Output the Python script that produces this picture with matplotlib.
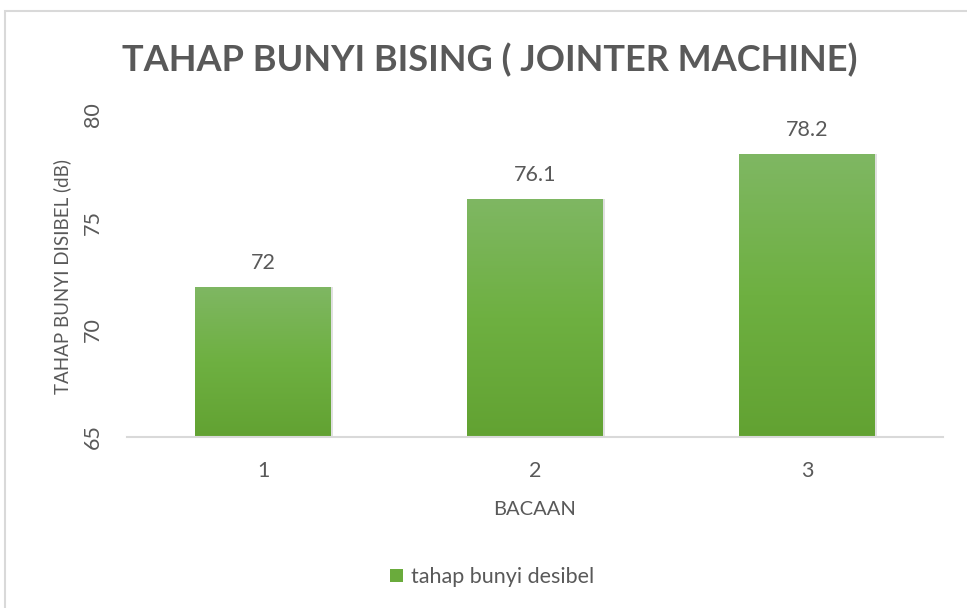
import matplotlib
matplotlib.use("Agg")
import matplotlib.pyplot as plt
import numpy as np
from matplotlib.colors import LinearSegmentedColormap
from matplotlib.patches import Rectangle

categories = ["1", "2", "3"]
values = [72, 76.1, 78.2]
value_labels = ["72", "76.1", "78.2"]
y_ticks = [65, 70, 75, 80]
title = "TAHAP BUNYI BISING ( JOINTER MACHINE)"
x_label = "BACAAN"
y_label = "TAHAP BUNYI DISIBEL (dB)"
legend_label = "tahap bunyi desibel"

plt.rcParams['font.family'] = ['Lato', 'DejaVu Sans']
txt = '#595959'
fs = 15.5

fig = plt.figure(figsize=(9.67, 6.08), dpi=100)
fig.patches.append(Rectangle((5/967, -0.05), 1.2, 1 - 11/608 + 0.05, transform=fig.transFigure,
                             fill=False, edgecolor='#d9d9d9', linewidth=1.5))
ax = fig.add_axes([127/967, 1 - 437/608, (943-127)/967, (437-115)/608])

x = np.arange(len(categories))
bars = ax.bar(x, values, width=0.5, color='#6aab3c', zorder=2, bottom=0)
ax.set_ylim(65, 80)
ax.set_xlim(-0.5, 2.5)

cmap = LinearSegmentedColormap.from_list('g', ['#62a232', '#6eb041', '#7fb763'])
grad = np.linspace(0, 1, 256).reshape(-1, 1)
for b in bars:
    x0, w, h = b.get_x(), b.get_width(), b.get_height()
    ax.add_patch(Rectangle((x0 + 0.008, 65), w, h - 65, facecolor='#000000', alpha=0.12,
                           zorder=1.5, linewidth=0))
    b.set_facecolor('none')
    b.set_edgecolor('none')
    im = ax.imshow(grad, cmap=cmap, aspect='auto', origin='lower',
                   extent=(x0, x0 + w, 65, h), zorder=2)
    im.set_clip_path(b)

for xi, v, lab in zip(x, values, value_labels):
    ax.annotate(lab, (xi, v), xytext=(0, 14), textcoords='offset pixels',
                ha='center', va='bottom', fontsize=fs, color=txt)

ax.set_xticks(x)
ax.set_xticklabels(categories, fontsize=fs, color=txt)
ax.set_yticks(y_ticks)
ax.set_yticklabels([str(t) for t in y_ticks], fontsize=fs, color=txt, rotation=90, va='center')
ax.tick_params(axis='both', length=0)
ax.tick_params(axis='y', pad=17.5)
ax.tick_params(axis='x', pad=17.5)
for s in ['top', 'right', 'left']:
    ax.spines[s].set_visible(False)
ax.spines['bottom'].set_color('#d9d9d9')
ax.spines['bottom'].set_linewidth(1.5)
ax.set_facecolor('none')

ax.set_xlabel(x_label, fontsize=fs - 1, color=txt, labelpad=14)
ax.set_ylabel(y_label, fontsize=13.5, color=txt, labelpad=8)

fig.text(490/967, 1 - 60/608, title, ha='center', va='center', fontsize=26,
         fontweight='bold', color=txt, family=['Liberation Sans Narrow', 'Lato', 'DejaVu Sans'])

fig.legend(handles=[Rectangle((0, 0), 1, 1, facecolor='#6aab3c', edgecolor='none')],
           labels=[legend_label], loc='center', bbox_to_anchor=(492/967, 1 - 577/608),
           frameon=False, fontsize=fs, labelcolor=txt, handlelength=0.6, handleheight=0.6,
           handletextpad=0.4)

fig.savefig('out.png', dpi=100)
